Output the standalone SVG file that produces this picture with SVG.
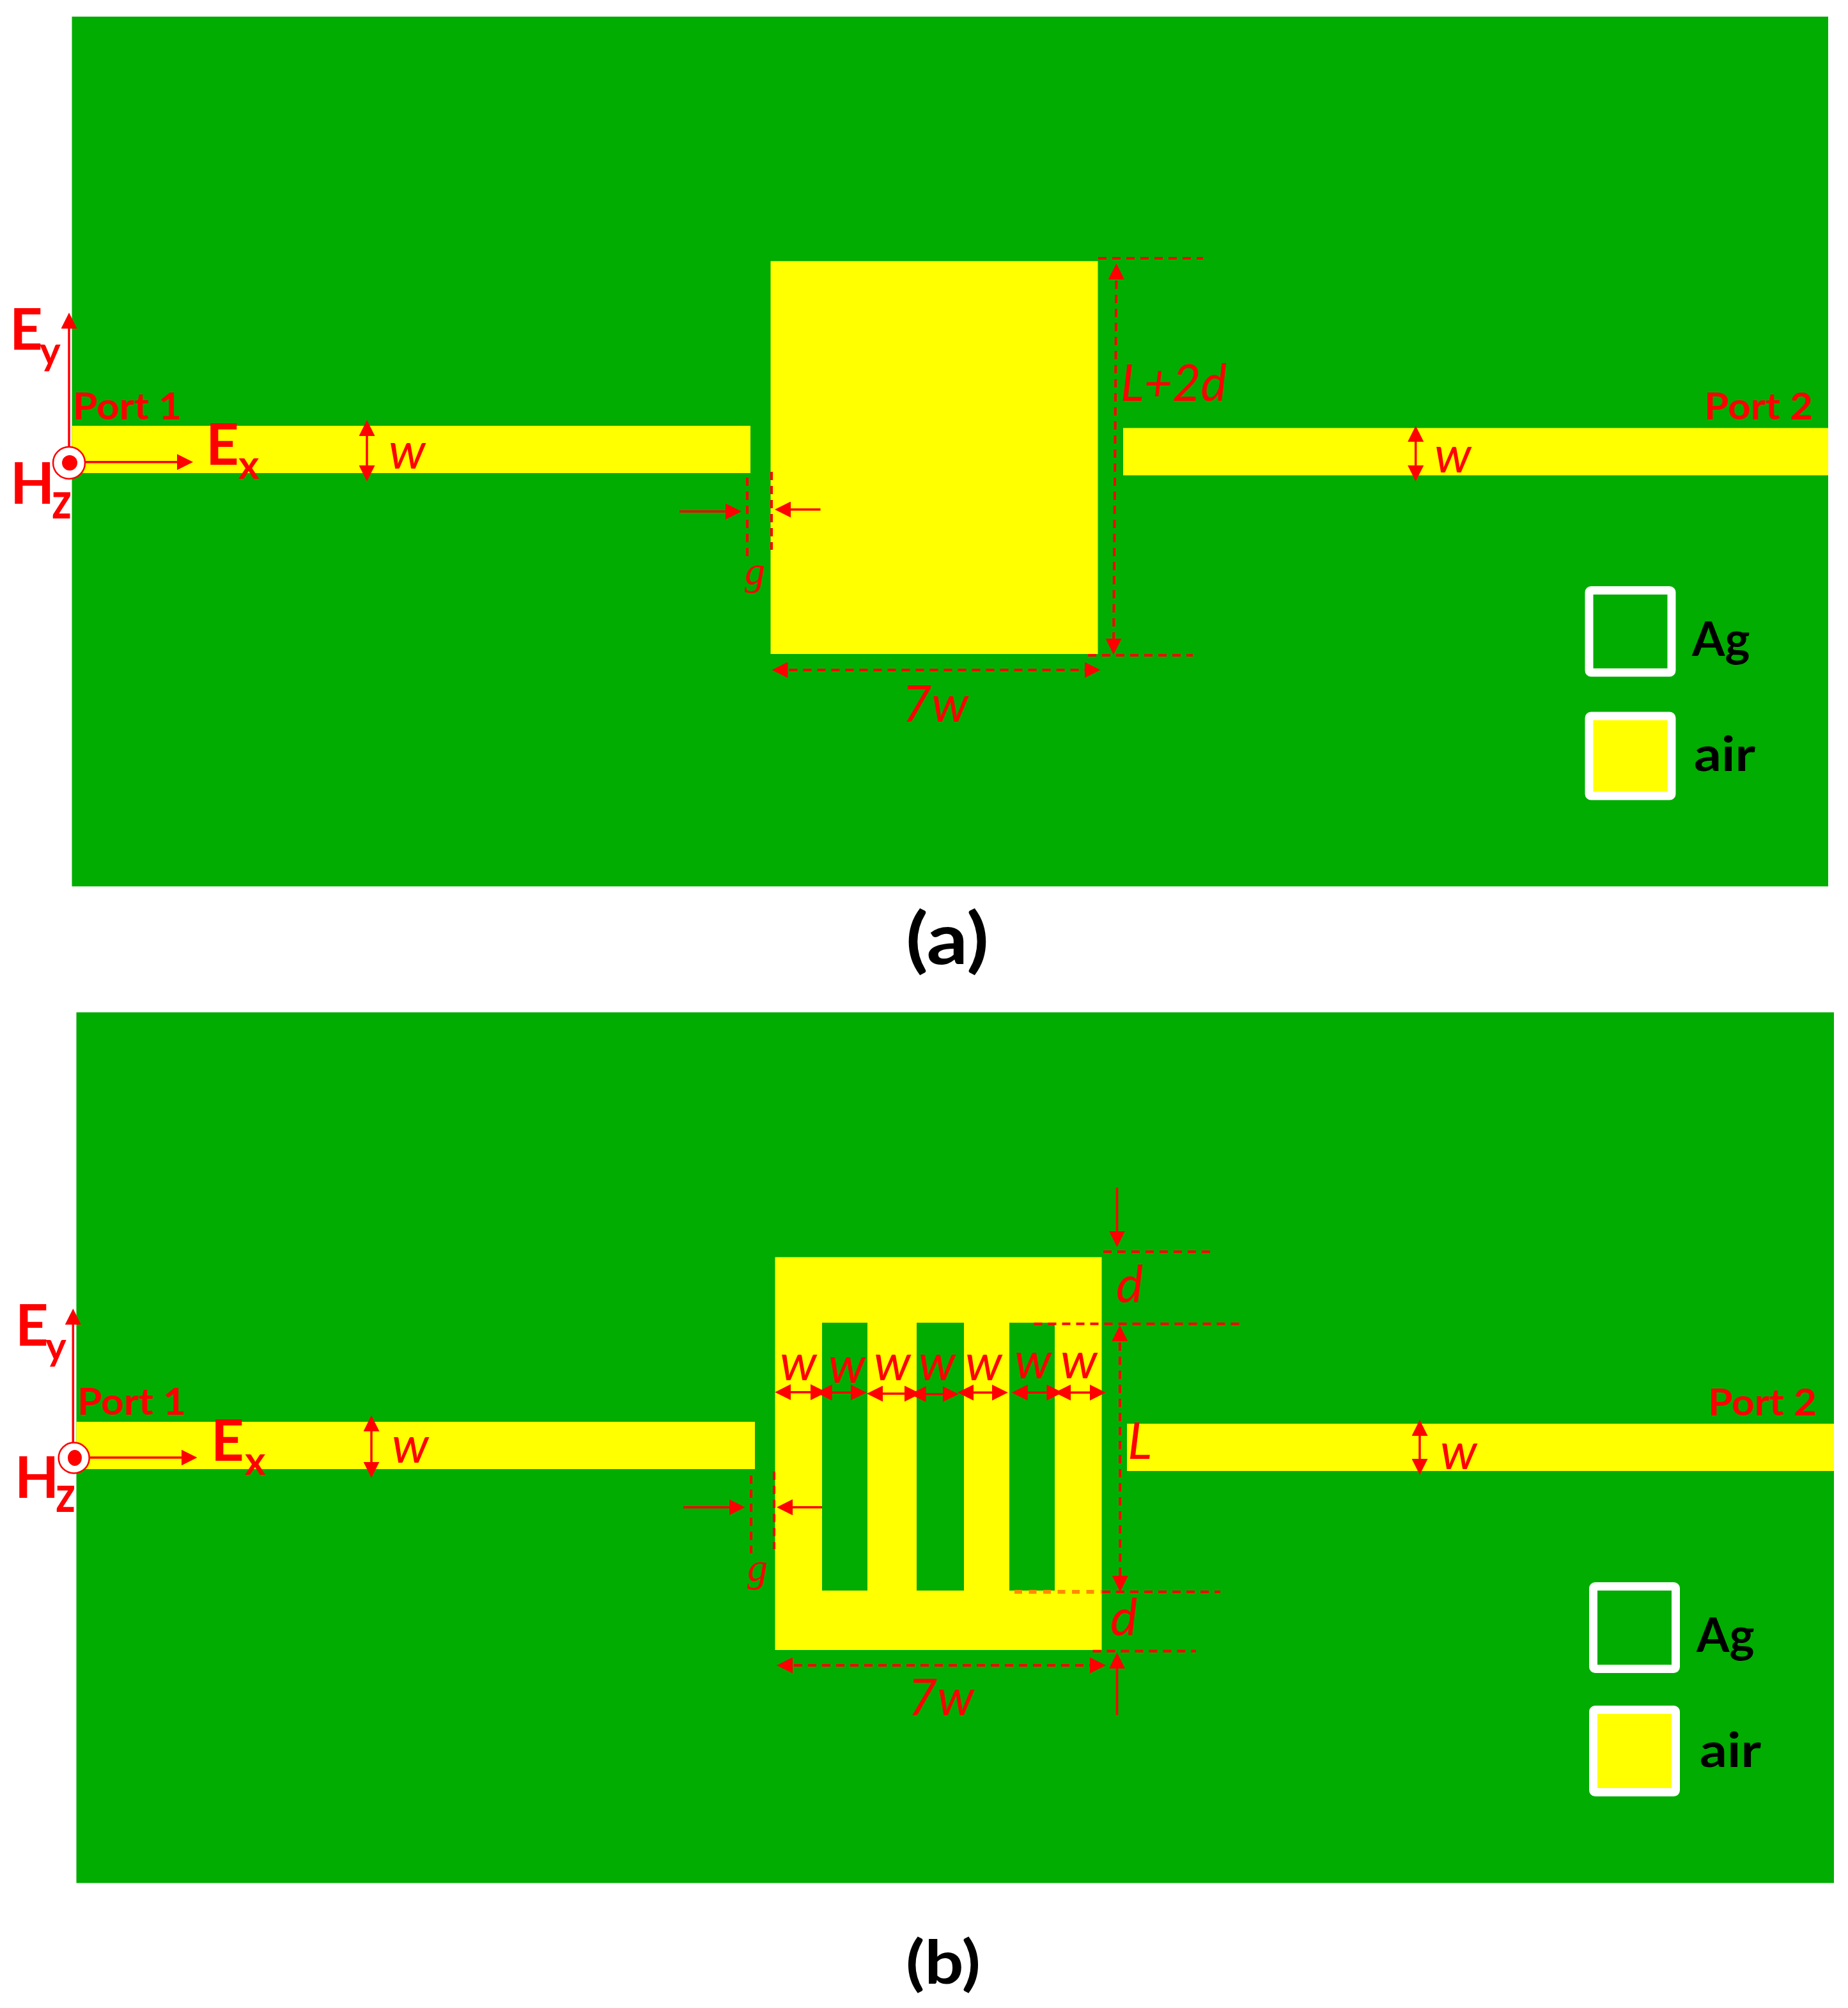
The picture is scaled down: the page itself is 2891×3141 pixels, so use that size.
<svg xmlns="http://www.w3.org/2000/svg" width="2891" height="3141" viewBox="0 0 2891 3141">
<style>
.g{fill:#00ad00}.y{fill:#ffff00}
text{font-family:Lato,"Liberation Sans",sans-serif}
.b{font-weight:700;fill:#ff0000}
.big{font-size:90px}.sub{font-size:62px}.zz{font-size:80px}.port{font-size:57px}
.i{font-style:italic;fill:#ff0000}.w{font-size:80px}.m{font-size:80px}
.gap{font-family:"Liberation Serif",serif;font-style:italic;fill:#ff0000;font-size:64px}
.leg{font-weight:700;font-size:74px;fill:#000}
.cap{font-weight:700;fill:#000}
.s{stroke:#ff0000;stroke-width:3.5;fill:none}
.d{stroke:#ff0000;stroke-width:4;fill:none;stroke-dasharray:13 9}
.o{stroke:#ff8c00;stroke-width:6;fill:none;stroke-dasharray:12 10.5}
.a1{marker-end:url(#h)}
.a2{marker-start:url(#h);marker-end:url(#h)}
.box{stroke:#fff;stroke-width:13;stroke-linejoin:round}
.ring{fill:#fff;stroke:#ff0000;stroke-width:2.5}
.dot{fill:#ff0000}
</style>
<defs>
<marker id="h" viewBox="0 0 25 25" markerUnits="userSpaceOnUse" markerWidth="25" markerHeight="25" refX="20" refY="12.5" orient="auto-start-reverse"><path d="M0 0L25 12.5L0 25Z" fill="#ff0000"/></marker>
</defs>
<rect width="2891" height="3141" fill="#fff"/>

<g id="panel-a">
<rect id="a-silver" class="g" x="112.5" y="26" width="2747.5" height="1360.5"/>
<rect id="a-strip-left" class="y" x="112.5" y="666" width="1061.5" height="74"/>
<rect id="a-strip-right" class="y" x="1757" y="669.5" width="1103" height="74"/>
<rect id="a-cavity" class="y" x="1205.5" y="408.5" width="512" height="614.5"/>
</g>

<g id="panel-b">
<rect id="b-silver" class="g" x="119.5" y="1583.5" width="2749.5" height="1362"/>
<rect id="b-strip-left" class="y" x="119.5" y="2224" width="1061.5" height="74"/>
<rect id="b-strip-right" class="y" x="1763" y="2227" width="1106" height="74"/>
<rect id="b-cavity" class="y" x="1212.5" y="1966.5" width="511" height="614.5"/>
<rect id="b-slot-1" class="g" x="1286" y="2069" width="71" height="419"/>
<rect id="b-slot-2" class="g" x="1434" y="2069" width="74" height="419"/>
<rect id="b-slot-3" class="g" x="1579" y="2069" width="71" height="419"/>
</g>

<g id="connectors">
<line class="s a1" x1="108" y1="700" x2="108" y2="494"/>
<line class="s a1" x1="133" y1="722.7" x2="297" y2="722.7"/>
<line class="s a2" x1="574" y1="662" x2="574" y2="748"/>
<line class="s a2" x1="2214.7" y1="671" x2="2214.7" y2="748"/>
<line class="d a2" x1="1746.5" y1="417" x2="1742" y2="1019"/>
<line class="d" x1="1718" y1="404" x2="1882" y2="404"/>
<line class="d" x1="1702" y1="1025" x2="1866" y2="1025"/>
<line class="d a2" x1="1212.5" y1="1048" x2="1716.5" y2="1048"/>
<line class="d" x1="1169" y1="747" x2="1169" y2="870"/>
<line class="d" x1="1207" y1="738" x2="1207" y2="860"/>
<line class="s a1" x1="1063" y1="800" x2="1155" y2="800"/>
<line class="s a1" x1="1283.5" y1="797" x2="1217" y2="797"/>

<line class="s a1" x1="114.3" y1="2258" x2="114.3" y2="2052"/>
<line class="s a1" x1="141" y1="2280" x2="303.5" y2="2280"/>
<line class="s a2" x1="581" y1="2219" x2="581" y2="2306.7"/>
<line class="s a2" x1="2221" y1="2226" x2="2221" y2="2302"/>
<line class="s a1" x1="1747.5" y1="1857.7" x2="1747.5" y2="1945.7"/>
<line class="s a1" x1="1747.5" y1="2683" x2="1747.5" y2="2590"/>
<line class="d a2" x1="1751.8" y1="2078" x2="1752.4" y2="2485"/>
<line class="d" x1="1726" y1="1958" x2="1897.5" y2="1958"/>
<line class="d" x1="1617.5" y1="2070.7" x2="1943" y2="2070.7"/>
<line class="o" x1="1587" y1="2490" x2="1723" y2="2490"/>
<line class="d" x1="1724" y1="2490" x2="1909" y2="2490"/>
<line class="d" x1="1709.5" y1="2582.7" x2="1871" y2="2582.7"/>
<line class="d a2" x1="1220" y1="2605" x2="1725" y2="2605"/>
<line class="d" x1="1175" y1="2308" x2="1175" y2="2430"/>
<line class="d" x1="1211" y1="2302" x2="1211" y2="2423"/>
<line class="s a1" x1="1069" y1="2357.7" x2="1160.5" y2="2357.7"/>
<line class="s a1" x1="1286" y1="2357.7" x2="1220" y2="2357.7"/>
<line class="s a2" x1="1217.3" y1="2177.7" x2="1288" y2="2177.7"/>
<line class="s a2" x1="1281.6" y1="2178.3" x2="1350.6" y2="2178.3"/>
<line class="s a2" x1="1361" y1="2180" x2="1435" y2="2180"/>
<line class="s a2" x1="1428.6" y1="2180.7" x2="1494.5" y2="2180.7"/>
<line class="s a2" x1="1503" y1="2178.3" x2="1571.7" y2="2178.3"/>
<line class="s a2" x1="1587.8" y1="2178.3" x2="1657.4" y2="2178.3"/>
<line class="s a2" x1="1655" y1="2178.3" x2="1724.8" y2="2178.3"/>
</g>

<g id="a-source">
<circle class="ring" cx="108" cy="724" r="25"/><circle class="dot" cx="109" cy="724" r="12"/>
</g>
<g id="b-source">
<circle class="ring" cx="115.7" cy="2280.5" r="24"/><ellipse class="dot" cx="117" cy="2280.5" rx="11" ry="12.5"/>
</g>

<g id="a-labels">
<text class="b big" x="15" y="547">E</text><text class="b sub" x="62" y="571">y</text>
<text class="b big" x="322" y="727">E</text><text class="b sub" x="373" y="749">x</text>
<text class="b big" x="16" y="788">H</text><text class="b zz" x="81" y="811" textLength="31" lengthAdjust="spacingAndGlyphs">z</text>
<text class="b port" x="114" y="656" textLength="170" lengthAdjust="spacingAndGlyphs">Port 1</text>
<text class="b port" x="2666" y="656" textLength="170" lengthAdjust="spacingAndGlyphs">Port 2</text>
<text class="i w" x="608" y="733">w</text>
<text class="i w" x="2244" y="739">w</text>
<text class="i m" x="1753" y="627" textLength="166" lengthAdjust="spacingAndGlyphs">L+2d</text>
<text class="i m" x="1411" y="1129" textLength="104" lengthAdjust="spacingAndGlyphs">7w</text>
<text class="gap" x="1165" y="914">g</text>
</g>
<g id="b-labels">
<text class="b big" x="24" y="2105">E</text><text class="b sub" x="71" y="2128">y</text>
<text class="b big" x="330" y="2285">E</text><text class="b sub" x="383" y="2307">x</text>
<text class="b big" x="23" y="2343">H</text><text class="b zz" x="87" y="2365" textLength="31" lengthAdjust="spacingAndGlyphs">z</text>
<text class="b port" x="121" y="2213" textLength="170" lengthAdjust="spacingAndGlyphs">Port 1</text>
<text class="b port" x="2672" y="2214" textLength="170" lengthAdjust="spacingAndGlyphs">Port 2</text>
<text class="i w" x="613" y="2288">w</text>
<text class="i w" x="2253" y="2297.7">w</text>
<text class="i w" x="1220" y="2159">w</text>
<text class="i w" x="1296" y="2163">w</text>
<text class="i w" x="1367" y="2159">w</text>
<text class="i w" x="1437" y="2159">w</text>
<text class="i w" x="1510" y="2159">w</text>
<text class="i w" x="1587" y="2156">w</text>
<text class="i w" x="1659" y="2156">w</text>
<text class="i m" x="1746" y="2036.7">d</text>
<text class="i m" x="1737" y="2558">d</text>
<text class="i m" x="1764" y="2281.7">L</text>
<text class="i m" x="1420" y="2683" textLength="104" lengthAdjust="spacingAndGlyphs">7w</text>
<text class="gap" x="1169" y="2473">g</text>
</g>

<g id="a-legend-ag"><rect class="g box" x="2486" y="923.5" width="129" height="128.5" rx="3"/><text class="leg" x="2647" y="1025.5">Ag</text></g>
<g id="a-legend-air"><rect class="y box" x="2486" y="1120" width="129" height="125" rx="3"/><text class="leg" x="2650" y="1206" textLength="96" lengthAdjust="spacingAndGlyphs">air</text></g>
<g id="b-legend-ag"><rect class="g box" x="2492.5" y="2481.5" width="129" height="129" rx="3"/><text class="leg" x="2654" y="2584">Ag</text></g>
<g id="b-legend-air"><rect class="y box" x="2492.5" y="2674.5" width="129" height="129" rx="3"/><text class="leg" x="2659" y="2764" textLength="96" lengthAdjust="spacingAndGlyphs">air</text></g>

<g id="captions">
<text class="cap" x="1417" y="1508" font-size="112" textLength="130" lengthAdjust="spacingAndGlyphs">(a)</text>
<text class="cap" x="1417" y="3103" font-size="94" textLength="117" lengthAdjust="spacingAndGlyphs">(b)</text>
</g>
</svg>
